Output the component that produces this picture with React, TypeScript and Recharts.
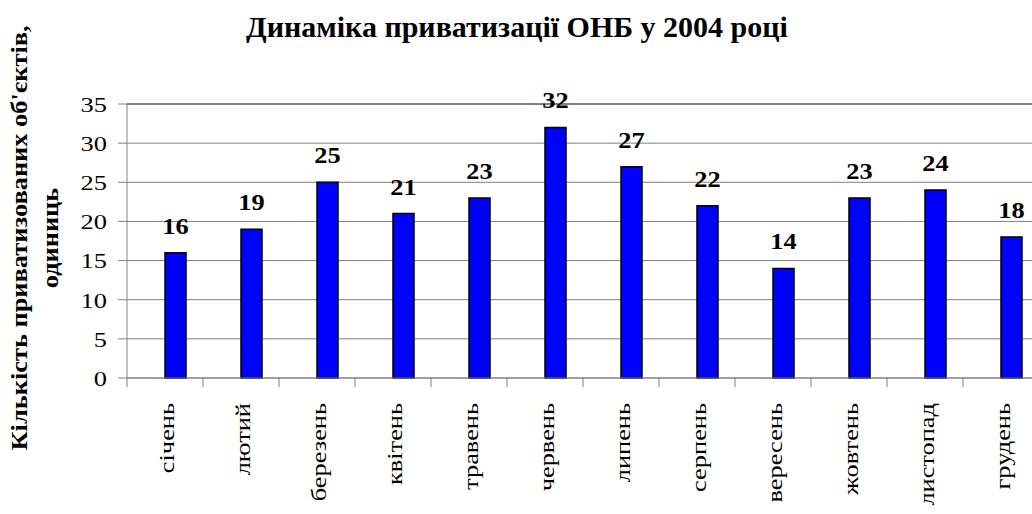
import { Bar, BarChart, CartesianGrid, LabelList, ReferenceLine, XAxis, YAxis } from "recharts"

// Динаміка приватизації ОНБ у 2004 році — кількість об'єктів по місяцях
const months = [
  "січень",
  "лютий",
  "березень",
  "квітень",
  "травень",
  "червень",
  "липень",
  "серпень",
  "вересень",
  "жовтень",
  "листопад",
  "грудень",
]
const counts = [16, 19, 25, 21, 23, 32, 27, 22, 14, 23, 24, 18]
const yTicks = [0, 5, 10, 15, 20, 25, 30, 35]

const TITLE = "Динаміка приватизації ОНБ у 2004 році"
const Y_TITLE_1 = "Кількість приватизованих об'єктів,"
const Y_TITLE_2 = "одиниць"

const data = months.map((month, i) => ({ month, value: counts[i] }))

const FONT = "Liberation Serif"
const AXIS_GRAY = "#808080"
const BAR_BLUE = "#0000ff"

// chart is wider than the window on purpose: the reference cuts the plot off on the right
const CHART_W = 1060
const CHART_H = 514
const PLOT_LEFT = 127
const PLOT_RIGHT = 1039
const BAND = (PLOT_RIGHT - PLOT_LEFT) / months.length
const TEXT_STRETCH = 1.2 // tick text in the reference is drawn wider than Times
const LABEL_STRETCH = 1.1

const serif = { fontFamily: FONT }

function YTick(props: any) {
  const { x, y, payload } = props
  return (
    <text
      transform={`translate(${x},${y}) scale(${TEXT_STRETCH},1)`}
      textAnchor="end"
      dy="0.36em"
      style={serif}
      fontSize={22}
      fill="#000"
    >
      {payload.value}
    </text>
  )
}

// month name rotated, plus a tick mark on the left boundary of the category
function XTick(props: any) {
  const { x, y, payload } = props
  const edge = x - BAND / 2
  return (
    <g>
      <line x1={edge} y1={y - 22} x2={edge} y2={y - 13} stroke={AXIS_GRAY} strokeWidth={1} />
      <text
        transform={`translate(${x},${y + 3}) rotate(-90) scale(${TEXT_STRETCH},1)`}
        textAnchor="end"
        dy={9}
        style={serif}
        fontSize={22}
        fill="#000"
      >
        {payload.value}
      </text>
    </g>
  )
}

function ValueLabel(props: any) {
  const { x, y, width, value } = props
  return (
    <text
      transform={`translate(${x + width / 2},${y - 19}) scale(${LABEL_STRETCH},1)`}
      textAnchor="middle"
      style={serif}
      fontWeight="bold"
      fontSize={24}
      fill="#000"
    >
      {value}
    </text>
  )
}

export default function App() {
  return (
    <div style={{ position: "fixed", left: 0, top: 0, width: 1032, height: 514, overflow: "hidden", background: "#fff" }}>
      <BarChart
        width={CHART_W}
        height={CHART_H}
        data={data}
        margin={{ top: 104, right: CHART_W - PLOT_RIGHT, bottom: 0, left: 0 }}
        barGap={0}
        barSize={21}
      >
        <CartesianGrid vertical={false} stroke={AXIS_GRAY} />
        <XAxis
          dataKey="month"
          height={136}
          interval={0}
          axisLine={{ stroke: AXIS_GRAY }}
          tickLine={false}
          tickSize={8}
          tickMargin={14}
          tick={<XTick />}
        />
        <YAxis
          width={PLOT_LEFT}
          domain={[0, 35]}
          ticks={yTicks}
          interval={0}
          axisLine={{ stroke: AXIS_GRAY }}
          tickLine={{ stroke: AXIS_GRAY }}
          tickSize={9}
          tickMargin={11}
          tick={<YTick />}
        />
        <ReferenceLine y={35} stroke={AXIS_GRAY} strokeWidth={2} />
        {/* empty series keeps the real bar right of the category centre, as in the reference */}
        <Bar dataKey="spacer" fill="none" isAnimationActive={false} />
        <Bar dataKey="value" fill={BAR_BLUE} stroke="#000" strokeWidth={1.5} isAnimationActive={false}>
          <LabelList dataKey="value" content={<ValueLabel />} />
        </Bar>
        <text x={517} y={37} textAnchor="middle" style={serif} fontWeight="bold" fontSize={30} fill="#000">
          {TITLE}
        </text>
        <g transform={`translate(0,238) rotate(-90) scale(${LABEL_STRETCH},1)`} style={serif} fontWeight="bold" fontSize={24} fill="#000">
          <text x={0} y={27} textAnchor="middle">
            {Y_TITLE_1}
          </text>
          <text x={0} y={58} textAnchor="middle">
            {Y_TITLE_2}
          </text>
        </g>
      </BarChart>
    </div>
  )
}
